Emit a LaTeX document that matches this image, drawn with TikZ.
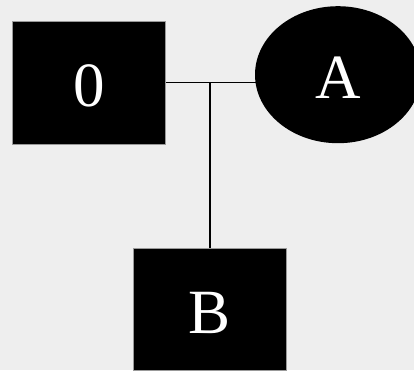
\documentclass[tikz,border=0pt]{standalone}
\usepackage{fontspec}
\setmainfont{Liberation Serif}
\usetikzlibrary{shapes.geometric,backgrounds}
\definecolor{bg}{HTML}{EEEEEE}
\tikzset{
  box/.style={rectangle, fill=black, draw=gray!80, line width=0.8pt,
    minimum width=153pt, minimum height=122.5pt, inner sep=0pt,
    text=white, font=\fontsize{63}{63}\selectfont, text height=48pt, text depth=0pt},
  oval/.style={ellipse, fill=black, minimum width=166pt, minimum height=137pt, inner sep=0pt,
    text=white, font=\fontsize{63}{63}\selectfont, text height=48pt, text depth=0pt},
  wire/.style={draw=black, line width=1.2pt}
}
\begin{document}
\begin{tikzpicture}[x=1pt, y=-1pt]
  \useasboundingbox (0,0) rectangle (414,370);
  \clip (0,0) rectangle (414,370);
  \node[box] (zero) at (89,82.7) {0};
  \node[oval] (a) at (338,74.7) {A};
  \node[box] (b) at (210,309.5) {B};
  \coordinate (j) at (210,82.7);
  \begin{scope}[on background layer]
    \fill[bg] (0,0) rectangle (414,370);
    % the horizontal wire runs under the ellipse, so it meets its rim
    \draw[wire] (zero.east) -- (zero.east -| a.center);
    \draw[wire] (j) -- (b.north);
  \end{scope}
\end{tikzpicture}
\end{document}
